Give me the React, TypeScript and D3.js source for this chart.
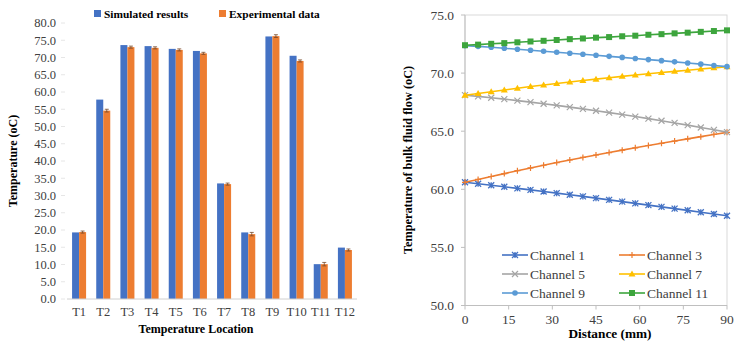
import * as d3 from 'd3';
import React from 'react';

// left chart data
const locations = ['T1', 'T2', 'T3', 'T4', 'T5', 'T6', 'T7', 'T8', 'T9', 'T10', 'T11', 'T12'];
const simulated = [19.3, 57.8, 73.6, 73.3, 72.5, 71.9, 33.5, 19.3, 76.1, 70.5, 10.1, 14.9];
const experimental = [19.4, 54.6, 73.0, 72.8, 72.2, 71.2, 33.3, 18.8, 76.2, 69.0, 10.1, 14.2];
const expError = [0.3, 0.4, 0.3, 0.3, 0.3, 0.3, 0.3, 0.5, 0.4, 0.3, 0.5, 0.3];
const leftTicks = d3.range(0, 80.01, 5);

// right chart data
const distance = d3.range(0, 90.01, 4.5);
const channel1 = [60.6, 60.48, 60.35, 60.22, 60.08, 59.95, 59.81, 59.67, 59.53, 59.39, 59.24, 59.09, 58.94, 58.79, 58.64, 58.49, 58.34, 58.19, 58.03, 57.88, 57.73];
const channel3 = [60.6, 60.85, 61.1, 61.35, 61.6, 61.84, 62.07, 62.3, 62.52, 62.74, 62.95, 63.16, 63.37, 63.57, 63.77, 63.96, 64.15, 64.34, 64.53, 64.72, 64.9];
const channel5 = [68.1, 68.0, 67.88, 67.76, 67.63, 67.5, 67.36, 67.22, 67.07, 66.92, 66.76, 66.6, 66.43, 66.26, 66.08, 65.9, 65.71, 65.52, 65.32, 65.12, 64.92];
const channel7 = [68.1, 68.25, 68.4, 68.55, 68.7, 68.84, 68.97, 69.1, 69.23, 69.36, 69.48, 69.6, 69.72, 69.83, 69.94, 70.05, 70.15, 70.25, 70.35, 70.45, 70.55];
const channel9 = [72.35, 72.3, 72.22, 72.14, 72.05, 71.97, 71.88, 71.8, 71.71, 71.62, 71.53, 71.44, 71.35, 71.26, 71.16, 71.07, 70.97, 70.87, 70.77, 70.66, 70.56];
const channel11 = [72.4, 72.45, 72.52, 72.58, 72.65, 72.72, 72.78, 72.85, 72.92, 72.98, 73.05, 73.1, 73.17, 73.22, 73.3, 73.35, 73.42, 73.48, 73.55, 73.62, 73.68];
const rightYTicks = [50, 55, 60, 65, 70, 75];
const rightXTicks = [0, 15, 30, 45, 60, 75, 90];

const series = [
  { name: 'Channel 1', values: channel1, color: '#4472C4', marker: 'star' },
  { name: 'Channel 3', values: channel3, color: '#ED7D31', marker: 'plus' },
  { name: 'Channel 5', values: channel5, color: '#A5A5A5', marker: 'x' },
  { name: 'Channel 7', values: channel7, color: '#FFC000', marker: 'triangle' },
  { name: 'Channel 9', values: channel9, color: '#5B9BD5', marker: 'circle' },
  { name: 'Channel 11', values: channel11, color: '#3DA53D', marker: 'square' },
];

const FONT = '"Liberation Serif", "Times New Roman", serif';
const BLUE = '#4472C4';
const ORANGE = '#ED7D31';

const Marker = ({ type, x, y, color }) => {
  const s = 3;
  if (type === 'square') return <rect x={x - s} y={y - s} width={s * 2} height={s * 2} fill={color} />;
  if (type === 'circle') return <circle cx={x} cy={y} r={2.8} fill={color} />;
  if (type === 'triangle')
    return <path d={`M${x},${y - 3.5}L${x + 3.5},${y + 2.5}L${x - 3.5},${y + 2.5}Z`} fill={color} />;
  if (type === 'x')
    return <path d={`M${x - s},${y - s}L${x + s},${y + s}M${x - s},${y + s}L${x + s},${y - s}`} stroke={color} strokeWidth={1.2} />;
  if (type === 'plus')
    return <path d={`M${x},${y - s}L${x},${y + s}M${x - s},${y}L${x + s},${y}`} stroke={color} strokeWidth={1.2} />;
  // star: x plus vertical line
  return (
    <path
      d={`M${x - s},${y - s}L${x + s},${y + s}M${x - s},${y + s}L${x + s},${y - s}M${x},${y - s}L${x},${y + s}`}
      stroke={color}
      strokeWidth={1.3}
    />
  );
};

const BarChart = () => {
  const x = d3.scaleBand().domain(locations).range([67, 357]).paddingInner(0.42).paddingOuter(0.21);
  const sub = d3.scaleBand().domain(['sim', 'exp']).range([0, x.bandwidth()]);
  const y = d3.scaleLinear().domain([0, 80]).range([299, 23]);

  return (
    <g fontFamily={FONT}>
      {leftTicks.map((t) => (
        <g key={t}>
          <text x={56} y={y(t)} dy="0.35em" textAnchor="end" fontSize={12.5} fill="#404040">
            {t.toFixed(1)}
          </text>
          <line x1={61} x2={65} y1={y(t)} y2={y(t)} stroke="#e6e6e6" />
        </g>
      ))}
      {locations.map((loc, i) => {
        const bx = x(loc);
        const ex = bx + sub('exp') + sub.bandwidth() / 2;
        return (
          <g key={loc}>
            <rect x={bx + sub('sim')} y={y(simulated[i])} width={sub.bandwidth()} height={y(0) - y(simulated[i])} fill={BLUE} />
            <rect x={bx + sub('exp')} y={y(experimental[i])} width={sub.bandwidth()} height={y(0) - y(experimental[i])} fill={ORANGE} />
            <g stroke="#7a4a2a" strokeWidth={0.8}>
              <line x1={ex} x2={ex} y1={y(experimental[i] + expError[i])} y2={y(experimental[i] - expError[i])} />
              <line x1={ex - 2} x2={ex + 2} y1={y(experimental[i] + expError[i])} y2={y(experimental[i] + expError[i])} />
              <line x1={ex - 2} x2={ex + 2} y1={y(experimental[i] - expError[i])} y2={y(experimental[i] - expError[i])} />
            </g>
            <text x={bx + x.bandwidth() / 2} y={316} textAnchor="middle" fontSize={12.5} fill="#404040">
              {loc}
            </text>
          </g>
        );
      })}
      <line x1={67} x2={357} y1={y(0)} y2={y(0)} stroke="#d0d0d0" />
      <text x={196} y={333} textAnchor="middle" fontSize={12} fontWeight="bold" fill="#000">
        Temperature Location
      </text>
      <text transform={`translate(17,${161}) rotate(-90)`} textAnchor="middle" fontSize={12} fontWeight="bold" fill="#000">
        Temperature (oC)
      </text>
      <g fontSize={11.4} fontWeight="bold" fill="#000">
        <rect x={94} y={10} width={7} height={7} fill={BLUE} />
        <text x={104} y={18}>Simulated results</text>
        <rect x={219} y={10} width={7} height={7} fill={ORANGE} />
        <text x={229} y={18}>Experimental data</text>
      </g>
    </g>
  );
};

const LineChart = () => {
  const x = d3.scaleLinear().domain([0, 90]).range([465, 727]);
  const y = d3.scaleLinear().domain([50, 75]).range([305.5, 15]);
  const line = d3
    .line<number>()
    .x((_, i) => x(distance[i]))
    .y((d) => y(d));

  const legendRows = [255, 274, 293];
  const legendCols = [502, 619];

  return (
    <g fontFamily={FONT}>
      <rect x={x(0)} y={y(75)} width={x(90) - x(0)} height={y(50) - y(75)} fill="none" stroke="#d9d9d9" />
      <line x1={x(0)} x2={x(0)} y1={y(75)} y2={y(50)} stroke="#bfbfbf" />
      <line x1={x(0)} x2={x(90)} y1={y(50)} y2={y(50)} stroke="#bfbfbf" />
      {rightYTicks.map((t) => (
        <g key={t}>
          <line x1={x(0) - 4} x2={x(0)} y1={y(t)} y2={y(t)} stroke="#bfbfbf" />
          <text x={454} y={y(t)} dy="0.35em" textAnchor="end" fontSize={13.5} fill="#404040">
            {t.toFixed(1)}
          </text>
        </g>
      ))}
      {rightXTicks.map((t) => (
        <g key={t}>
          <line x1={x(t)} x2={x(t)} y1={y(50)} y2={y(50) + 4} stroke="#bfbfbf" />
          <text x={x(t)} y={y(50) + 18} textAnchor="middle" fontSize={13.5} fill="#404040">
            {t}
          </text>
        </g>
      ))}
      {series.map((s) => (
        <g key={s.name}>
          <path d={line(s.values)} fill="none" stroke={s.color} strokeWidth={1.6} />
          {s.values.map((v, i) => (
            <Marker key={i} type={s.marker} x={x(distance[i])} y={y(v)} color={s.color} />
          ))}
        </g>
      ))}
      {series.map((s, i) => {
        const lx = legendCols[i % 2];
        const ly = legendRows[Math.floor(i / 2)];
        return (
          <g key={s.name}>
            <line x1={lx} x2={lx + 26} y1={ly} y2={ly} stroke={s.color} strokeWidth={1.6} />
            <Marker type={s.marker} x={lx + 13} y={ly} color={s.color} />
            <text x={lx + 28} y={ly} dy="0.35em" fontSize={13.5} fill="#404040">
              {s.name}
            </text>
          </g>
        );
      })}
      <text x={610} y={338} textAnchor="middle" fontSize={13.3} fontWeight="bold" fill="#000">
        Distance (mm)
      </text>
      <text transform={`translate(412,160) rotate(-90)`} textAnchor="middle" fontSize={12.3} fontWeight="bold" fill="#000">
        Temperature of bulk fluid flow (oC)
      </text>
    </g>
  );
};

export default function App() {
  return (
    <svg width={734} height={343} style={{ position: 'absolute', left: 0, top: 0, background: '#fff' }}>
      <BarChart />
      <LineChart />
    </svg>
  );
}
